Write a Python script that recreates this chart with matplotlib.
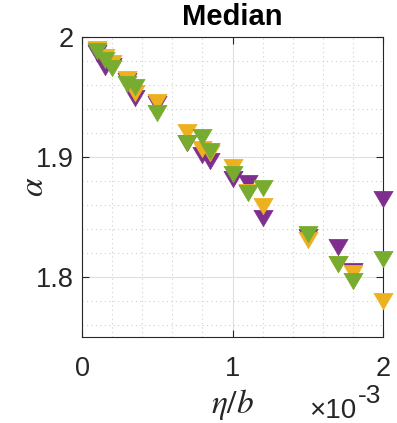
import matplotlib
matplotlib.use("Agg")
import matplotlib.pyplot as plt
from matplotlib.ticker import FuncFormatter, MultipleLocator
import numpy as np

plt.rcParams['font.family'] = ['Liberation Sans', 'DejaVu Sans']
plt.rcParams['mathtext.fontset'] = 'stix'

# eta/b values (shared by the three series)
eta_b = [0.1e-3, 0.15e-3, 0.2e-3, 0.3e-3, 0.35e-3, 0.5e-3, 0.7e-3, 0.8e-3,
         0.85e-3, 1.0e-3, 1.1e-3, 1.2e-3, 1.5e-3, 1.7e-3, 1.8e-3, 2.0e-3]

alpha_purple = [1.987, 1.975, 1.976, 1.963, 1.949, 1.944, 1.912, 1.902,
                1.897, 1.882, 1.878, 1.849, 1.833, 1.825, 1.805, 1.865]
alpha_yellow = [1.990, 1.983, 1.978, 1.965, 1.953, 1.946, 1.921, 1.907,
                1.903, 1.892, 1.871, 1.859, 1.831, 1.811, 1.803, 1.780]
alpha_green = [1.988, 1.981, 1.974, 1.961, 1.958, 1.937, 1.912, 1.917,
               1.905, 1.886, 1.870, 1.874, 1.836, 1.811, 1.797, 1.815]

series = [(alpha_purple, '#7E2F8E'), (alpha_yellow, '#EDB120'), (alpha_green, '#77AC30')]

# squat downward triangle like MATLAB's 'v'
tri = [(-1, 0.85), (1, 0.85), (0, -0.85), (-1, 0.85)]

fig = plt.figure(figsize=(3.97, 4.23), dpi=100)
ax = fig.add_axes([82/397, 86/423, 301/397, 300/423])

for vals, col in series:
    ax.plot(eta_b, vals, linestyle='none', marker=tri, markersize=13.8,
            color=col, markeredgecolor=col, markeredgewidth=0.5, clip_on=False, zorder=3)

ax.set_xlim(0, 2e-3)
ax.set_ylim(1.75, 2.0)
ax.set_xticks([0, 1e-3, 2e-3])
ax.set_yticks([1.8, 1.9, 2.0])
ax.xaxis.set_minor_locator(MultipleLocator(0.2e-3))
ax.yaxis.set_minor_locator(MultipleLocator(0.02))
ax.xaxis.set_major_formatter(FuncFormatter(lambda v, p: '%g' % round(v * 1e3, 6)))
ax.yaxis.set_major_formatter(FuncFormatter(lambda v, p: '%g' % round(v, 6)))

ax.grid(True, which='major', color='#dfdfdf', linewidth=0.8, linestyle='-')
ax.grid(True, which='minor', color='#d0d0d0', linewidth=0.8, linestyle=(0, (1, 3)))
ax.set_axisbelow(True)

for s in ax.spines.values():
    s.set_color('#262626')
    s.set_linewidth(0.8)
ax.tick_params(which='major', direction='in', length=5, width=0.8, color='#262626',
               top=True, right=True, labelsize=19.5, labelcolor='#262626')
ax.tick_params(axis='x', which='major', pad=14)
ax.tick_params(axis='y', which='major', pad=6)
ax.tick_params(which='minor', length=0, top=True, right=True)

ax.set_title('Median', fontsize=21, fontweight='bold', pad=8.5)
ax.set_xlabel(r'$\eta/b$', fontsize=24, labelpad=3, color='#262626')
ax.set_ylabel(r'$\alpha$', fontsize=24, color='#262626')
ax.yaxis.set_label_coords(-0.107, 0.5)

fig.text(309/397, 1 - 418/423, u'\u00d710', fontsize=20, color='#262626',
         ha='left', va='baseline')
fig.text(358/397, 1 - 403/423, '-3', fontsize=19, color='#262626',
         ha='left', va='baseline')

fig.savefig('out.png', dpi=100)
